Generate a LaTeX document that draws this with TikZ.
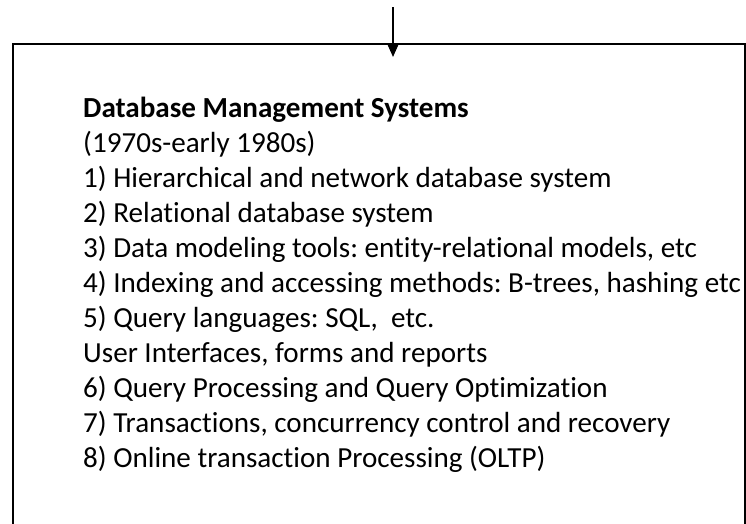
\documentclass[tikz,border=0pt]{standalone}
\usepackage{fontspec}
\setmainfont{Carlito}[Ligatures=NoCommon]
\usetikzlibrary{positioning, arrows.meta}

\tikzset{
  frame/.style={rectangle, draw, line width=2pt, minimum width=732pt, minimum height=520pt, anchor=north west, inner sep=0pt},
  entry/.style={anchor=base west, inner sep=0pt, font=\fontsize{29.1}{35}\selectfont\frenchspacing},
  flow/.style={line width=1.5pt, -{Triangle[width=12pt,length=14pt]}}
}

\begin{document}
\begin{tikzpicture}[x=1pt, y=-1pt]
  \useasboundingbox (0,0) rectangle (746,523);
  % Riquadro
  \node[frame] (dbms) at (12,43) {};

  % Testo
  \node[entry] (title) at (83,117) {\textbf{Database Management Systems}};
  \node[entry] (years) at (83,152) {(1970s-early 1980s)};
  \node[entry] (hier) at (83,187) {1) Hierarchical and network database system};
  \node[entry] (rel) at (83,222) {2) Relational database system};
  \node[entry] (model) at (83,257) {3) Data modeling tools: entity-relational models, etc};
  \node[entry] (index) at (83,292) {4) Indexing and accessing methods: B-trees, hashing etc};
  \node[entry] (query) at (83,327) {5) Query languages: SQL,~ etc.};
  \node[entry] (ui) at (83,362) {User Interfaces, forms and reports};
  \node[entry] (optim) at (83,397) {6) Query Processing and Query Optimization};
  \node[entry] (trans) at (83,432) {7) Transactions, concurrency control and recovery};
  \node[entry] (oltp) at (83,467) {8) Online transaction Processing (OLTP)};

  % Freccia
  \coordinate (src) at (393,7);
  \draw[flow] (src) -- ([yshift=-14pt]src |- dbms.north);
\end{tikzpicture}
\end{document}
